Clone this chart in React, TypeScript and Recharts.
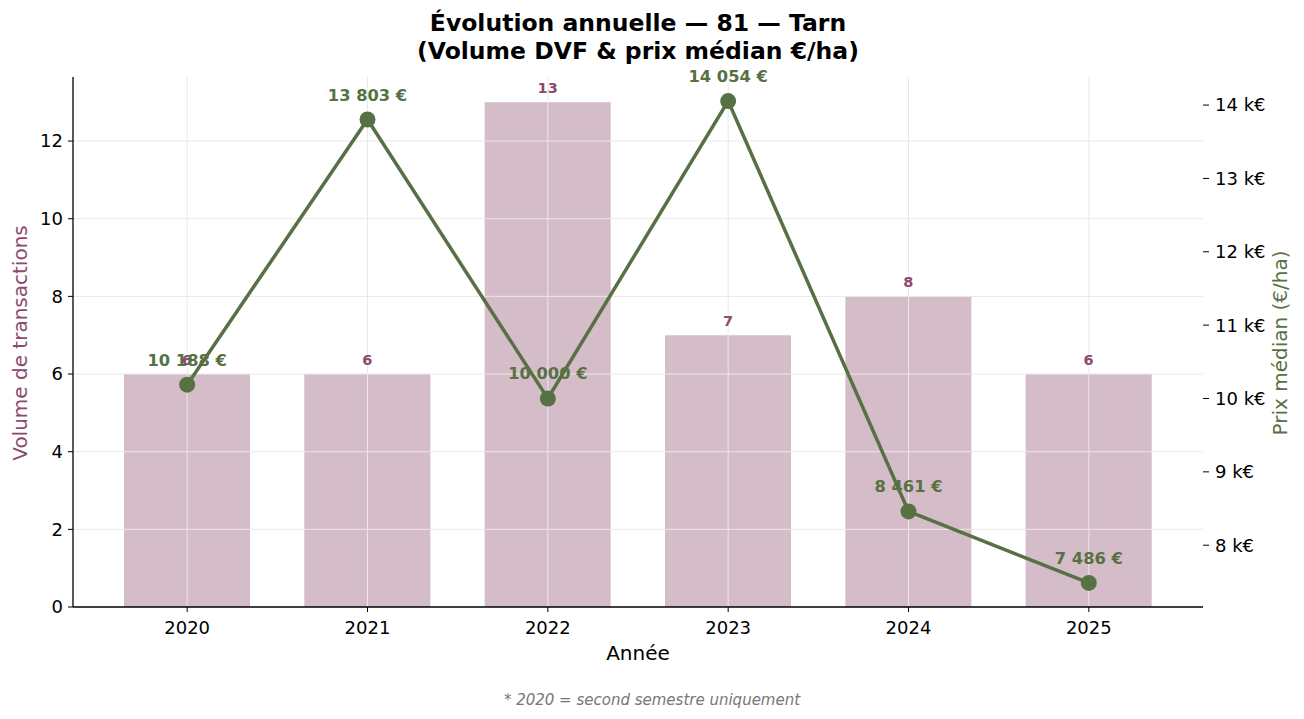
import { ComposedChart, Bar, Line, XAxis, YAxis, ReferenceLine, LabelList } from 'recharts'

const years = ['2020', '2021', '2022', '2023', '2024', '2025']
const volumes = [6, 6, 13, 7, 8, 6]
const medianPrices = [10188, 13803, 10000, 14054, 8461, 7486]
const priceTicks = [8000, 9000, 10000, 11000, 12000, 13000, 14000]
const volumeTicks = [0, 2, 4, 6, 8, 10, 12]

const data = years.map((year, i) => ({ year, volume: volumes[i], price: medianPrices[i] }))

const PURPLE = '#8b4a6e'
const BAR = '#d4bcc9'
const GREEN = '#587144'
const GRID = '#e9e9e9'
const FONT = 'DejaVu Sans, sans-serif'

const W = 1304
const H = 719

const fmtEuro = (v: number) => `${v.toLocaleString('fr-FR').replace(/\s/g, ' ')} €`

const VolumeLabel = (props: any) => {
  const { x, y, width, value } = props
  return (
    <text x={x + width / 2} y={y - 9.5} textAnchor="middle" fontFamily={FONT} fontSize={14.5} fontWeight="bold" fill={PURPLE}>
      {value}
    </text>
  )
}

const PriceLabel = (props: any) => {
  const { x, y, value } = props
  return (
    <text x={x} y={y - 19} textAnchor="middle" fontFamily={FONT} fontSize={16.3} fontWeight="bold" fill={GREEN}>
      {fmtEuro(value)}
    </text>
  )
}

export default function App() {
  const tick = { fontSize: 18, fill: '#000', fontFamily: FONT }
  return (
    <div style={{ position: 'absolute', left: 0, top: 0, width: W, height: H, background: '#fff' }}>
      <ComposedChart width={W} height={H} data={data} margin={{ top: 77, right: 21, bottom: 72, left: 8 }}>
        <XAxis
          dataKey="year"
          padding={{ left: 24, right: 24 }}
          tick={tick}
          tickSize={5}
          tickMargin={9}
          height={40}
          stroke="#000"
          axisLine={{ stroke: '#000', strokeWidth: 1.3 }}
          tickLine={{ stroke: '#000' }}
        />
        <YAxis
          yAxisId="left"
          domain={[0, 13.65]}
          ticks={volumeTicks}
          tick={tick}
          tickSize={5}
          tickMargin={5}
          width={65}
          axisLine={{ stroke: '#000', strokeWidth: 1.3 }}
          tickLine={{ stroke: '#000' }}
        />
        <YAxis
          yAxisId="right"
          orientation="right"
          domain={[7157.6, 14382.7]}
          ticks={priceTicks}
          tickFormatter={(v: number) => `${v / 1000} k€`}
          tick={{ ...tick, textAnchor: 'start' }}
          tickSize={6}
          tickMargin={6}
          width={80}
          axisLine={false}
          tickLine={{ stroke: '#000' }}
        />
        <Bar yAxisId="left" dataKey="volume" fill={BAR} barSize={126} isAnimationActive={false}>
          <LabelList dataKey="volume" content={VolumeLabel} />
        </Bar>
        {/* grid drawn over the bars */}
        {volumeTicks.slice(1).map((v) => (
          <ReferenceLine key={`h${v}`} yAxisId="left" y={v} stroke={GRID} strokeWidth={1} />
        ))}
        {years.map((y) => (
          <ReferenceLine key={`v${y}`} yAxisId="left" x={y} stroke={GRID} strokeWidth={1} />
        ))}
        {/* labels sit under the price line */}
        <Line yAxisId="right" dataKey="price" stroke="none" dot={false} activeDot={false} isAnimationActive={false}>
          <LabelList dataKey="price" content={PriceLabel} />
        </Line>
        <Line
          yAxisId="right"
          dataKey="price"
          stroke={GREEN}
          strokeWidth={3.5}
          dot={{ r: 8, fill: GREEN, stroke: GREEN, strokeWidth: 0 }}
          activeDot={false}
          isAnimationActive={false}
        />
      </ComposedChart>
      <svg width={W} height={H} style={{ position: 'absolute', left: 0, top: 0, pointerEvents: 'none' }} fontFamily={FONT}>
        <text x={638} y={30.5} textAnchor="middle" fontSize={23.5} fontWeight="bold" fill="#000">
          Évolution annuelle — 81 — Tarn
        </text>
        <text x={638} y={58.5} textAnchor="middle" fontSize={23.5} fontWeight="bold" fill="#000">
          (Volume DVF &amp; prix médian €/ha)
        </text>
        <text x={27} y={343} textAnchor="middle" fontSize={20} fill={PURPLE} transform="rotate(-90, 27, 343)">
          Volume de transactions
        </text>
        <text x={1287} y={343} textAnchor="middle" fontSize={20} fill={GREEN} transform="rotate(-90, 1287, 343)">
          Prix médian (€/ha)
        </text>
        <text x={638} y={660} textAnchor="middle" fontSize={20} fill="#000">
          Année
        </text>
        <text x={652} y={705} textAnchor="middle" fontSize={15} fontStyle="italic" fill="#777">
          * 2020 = second semestre uniquement
        </text>
      </svg>
    </div>
  )
}
